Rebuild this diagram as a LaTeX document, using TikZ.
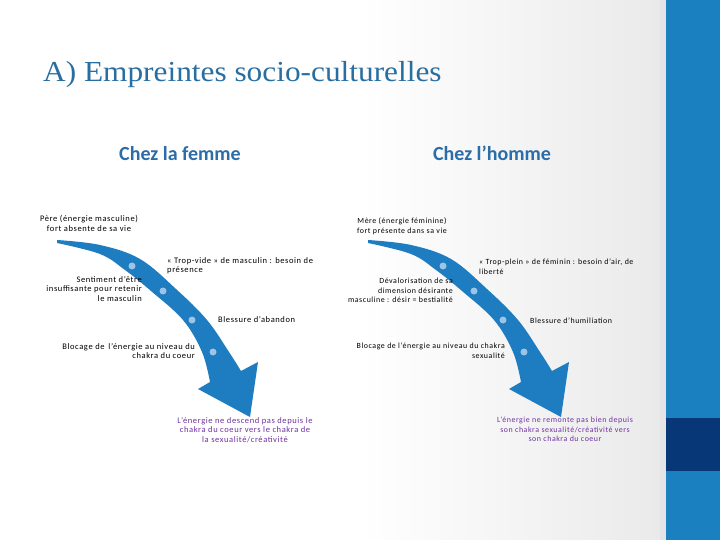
\documentclass[tikz,border=0pt]{standalone}
\usepackage{fontspec}
\usepackage{graphicx}
\setmainfont{Carlito}
\newfontfamily\titlefont{Liberation Serif}
\newfontfamily\smallfont[LetterSpace=7]{Carlito}
\definecolor{titleblue}{RGB}{40,110,160}
\definecolor{headblue}{RGB}{43,109,168}
\definecolor{arrowblue}{RGB}{30,125,192}
\definecolor{dotblue}{RGB}{157,195,230}
\definecolor{barblue}{RGB}{27,128,192}
\definecolor{bardark}{RGB}{7,55,119}
\definecolor{bggray}{RGB}{234,234,234}
\definecolor{stripgray}{RGB}{228,228,230}
\definecolor{purpletxt}{RGB}{112,48,160}
\begin{document}
\begin{tikzpicture}[x=1pt,y=-1pt,
  smalltxt/.style={font=\smallfont\fontsize{8.5}{9.8}\selectfont, inner sep=0pt, text=black},
  smallr/.style={font=\smallfont\fontsize{7.9}{9.6}\selectfont, inner sep=0pt, text=black},
  purptxt/.style={smalltxt, text=purpletxt},
  purpr/.style={smallr, text=purpletxt},
  bead/.style={circle, fill=dotblue, minimum size=7pt, inner sep=0pt},
  headtxt/.style={font=\bfseries\fontsize{20}{24}\selectfont, text=headblue, inner sep=0pt}]
\useasboundingbox (0,0) rectangle (720,540);
% background
\fill[white] (0,0) rectangle (720,540);
\shade[left color=white, right color=bggray] (360,0) rectangle (660,540);
\fill[stripgray] (660,0) rectangle (666,540);
\fill[barblue] (666,0) rectangle (720,540);
\fill[bardark] (666,418) rectangle (720,471);
% title
\node[font=\titlefont\fontsize{29}{34}\selectfont, text=titleblue, anchor=base west, inner sep=0pt] (title) at (43,82) {\scalebox{1.08}[1]{A) Empreintes socio-culturelles}};
\node[headtxt, anchor=base] (hfemme) at (180,161) {Chez la femme};
\node[headtxt, anchor=base] (hhomme) at (492,161) {Chez l’homme};
% arrows
\foreach \s in {0,311}{
\begin{scope}[xshift=\s pt]
\fill[arrowblue] plot[smooth, tension=0.6] coordinates {(57,240) (100,245) (140,259) (176,289) (207,320) (229,352) (241,371)}
  -- (258,362) -- (250,417) -- (198,389) -- (210,382)
  -- plot[smooth, tension=0.6] coordinates {(210,382) (202,352) (183,320) (151,291) (125,270) (100,254) (57,243)} -- cycle;
\end{scope}}
\node[bead] (ld1) at (132,266) {};
\node[bead] (ld2) at (163,291) {};
\node[bead] (ld3) at (192,320) {};
\node[bead] (ld4) at (213,352) {};
\node[bead] (rd1) at (443,266) {};
\node[bead] (rd2) at (474,291) {};
\node[bead] (rd3) at (503,320) {};
\node[bead] (rd4) at (524,352) {};
% left texts
\node[smalltxt, anchor=north, align=center] (l1) at (89,215) {Père (énergie masculine)\\fort absente de sa vie};
\node[smalltxt, anchor=north west, align=left] (l2) at (167,257) {« Trop-vide » de masculin : besoin de\\présence};
\node[smalltxt, anchor=north east, align=right] (l3) at (142,276) {Sentiment d’être\\insuffisante pour retenir\\le masculin};
\node[smalltxt, anchor=west] (l4) at (218,320) {Blessure d’abandon};
\node[smalltxt, anchor=north east, align=right] (l5) at (195,343) {Blocage de \,l’énergie au niveau du\\chakra du coeur};
\node[purptxt, anchor=north, align=center] (l6) at (245,417) {L’énergie ne descend pas depuis le\\chakra du coeur vers le chakra de\\la sexualité/créativité};
% right texts
\node[smallr, anchor=north, align=center] (r1) at (402,218) {Mère (énergie féminine)\\fort présente dans sa vie};
\node[smallr, anchor=north west, align=left] (r2) at (479,259) {« Trop-plein » de féminin : besoin d’air, de\\liberté};
\node[smallr, anchor=north east, align=right] (r3) at (453,278) {Dévalorisation de sa\\dimension désirante\\masculine : désir = bestialité};
\node[smallr, anchor=west] (r4) at (530,321) {Blessure d’humiliation};
\node[smallr, anchor=north east, align=right] (r5) at (505,343) {Blocage de l’énergie au niveau du chakra\\sexualité};
\node[purpr, anchor=north, align=center] (r6) at (565,417) {L’énergie ne remonte pas bien depuis\\son chakra sexualité/créativité vers\\son chakra du coeur};
\end{tikzpicture}
\end{document}
